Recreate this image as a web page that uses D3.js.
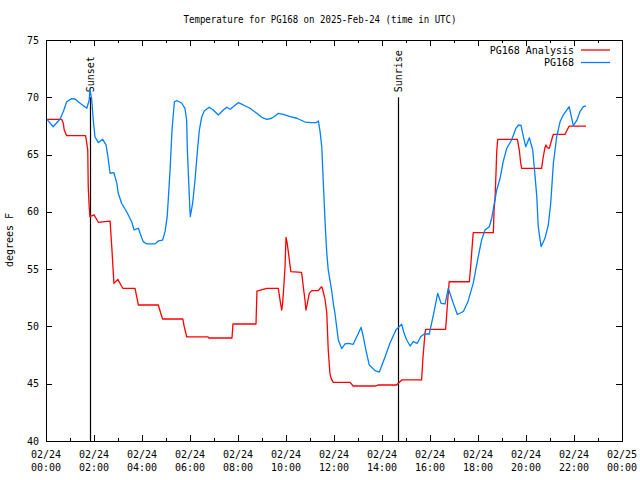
<!DOCTYPE html>
<html>
<head>
<meta charset="utf-8">
<script src="https://cdn.jsdelivr.net/npm/d3@7"></script>
<style>
  html, body { margin: 0; padding: 0; background: #fff; }
  svg { display: block; }
  text { font-family: "DejaVu Sans Mono", "Liberation Mono", monospace; fill: #000; }
</style>
</head>
<body>
<svg id="chart" width="640" height="480"></svg>
<script>
// ---------------- data ----------------
const title = "Temperature for PG168 on 2025-Feb-24 (time in UTC)";
const yLabel = "degrees F";
const seriesNames = ["PG168 Analysis", "PG168"];
const seriesColors = ["#ff0000", "#0080ff"];

// hours since 2025-02-24 00:00 UTC
const analysisHours = [0.03,0.65,0.72,0.76,0.86,1.65,1.70,1.74,1.76,1.80,1.83,2.00,2.18,2.67,2.74,2.83,2.99,3.20,3.71,3.85,4.68,4.78,4.86,5.70,5.76,5.86,6.75,6.79,7.75,7.79,8.75,8.79,9.05,9.20,9.68,9.75,9.82,9.86,9.89,9.96,10.00,10.05,10.14,10.20,10.65,10.72,10.79,10.83,10.89,10.97,11.07,11.35,11.42,11.49,11.55,11.63,11.70,11.76,11.83,11.88,11.97,12.67,12.80,13.71,13.85,14.61,14.82,15.65,15.70,15.79,15.82,16.65,16.70,16.76,16.80,17.64,17.70,17.74,17.80,18.64,18.67,18.71,18.75,18.78,18.82,19.64,19.72,19.78,19.82,20.65,20.72,20.79,20.83,20.89,20.97,21.03,21.10,21.14,21.63,21.70,21.80,22.50];
const analysisTemps = [68.08,68.08,67.73,67.14,66.65,66.65,65.98,65.40,62.20,60.45,59.58,59.73,59.09,59.20,56.96,53.76,54.11,53.33,53.33,51.87,51.87,51.15,50.65,50.65,49.98,49.10,49.08,48.99,48.99,50.21,50.21,53.09,53.24,53.33,53.33,52.31,51.43,52.02,52.89,55.21,57.78,57.26,55.80,54.78,54.72,53.47,52.31,51.43,52.02,52.89,53.12,53.12,53.33,53.47,53.03,52.31,51.15,47.94,45.91,45.47,45.12,45.12,44.80,44.80,44.89,44.89,45.33,45.33,47.07,49.40,49.75,49.75,51.15,52.89,53.90,53.90,55.36,56.52,58.18,58.18,60.16,61.18,63.37,65.25,66.33,66.33,65.40,64.24,63.80,63.80,64.81,65.60,65.84,65.60,65.55,65.98,66.51,66.77,66.77,67.08,67.49,67.49];

const obsHours = [0.03,0.30,0.58,0.72,0.86,1.07,1.21,1.42,1.70,1.80,1.83,1.90,1.97,2.04,2.18,2.36,2.50,2.57,2.67,2.83,2.95,3.01,3.15,3.36,3.57,3.67,3.85,3.92,4.05,4.20,4.54,4.68,4.86,4.96,5.05,5.17,5.25,5.35,5.46,5.65,5.79,5.86,5.89,5.96,6.01,6.11,6.21,6.30,6.39,6.49,6.60,6.80,6.97,7.18,7.39,7.53,7.67,8.01,8.22,8.50,8.78,8.99,9.20,9.40,9.54,9.68,9.89,10.17,10.45,10.79,11.07,11.25,11.35,11.42,11.49,11.55,11.63,11.70,11.76,11.83,11.90,11.97,12.04,12.11,12.18,12.32,12.46,12.60,12.80,12.95,13.13,13.22,13.33,13.47,13.71,13.89,14.13,14.33,14.58,14.82,14.92,15.03,15.17,15.30,15.47,15.61,15.76,15.97,16.17,16.32,16.46,16.63,16.76,16.97,17.14,17.39,17.58,17.80,18.01,18.15,18.29,18.47,18.57,18.68,18.78,18.92,19.05,19.20,19.40,19.58,19.68,19.79,19.89,19.99,20.14,20.28,20.38,20.45,20.51,20.63,20.79,20.93,21.03,21.14,21.28,21.42,21.55,21.80,21.97,22.11,22.25,22.39,22.50];
const obsTemps = [68.10,67.43,68.08,68.74,69.61,69.88,69.85,69.48,69.04,69.76,70.70,69.91,68.02,66.56,66.04,66.33,65.84,64.96,63.37,63.42,62.49,61.62,60.75,60.01,59.14,58.42,58.57,58.13,57.40,57.20,57.20,57.46,57.54,58.27,59.58,63.65,67.14,69.61,69.70,69.50,69.04,68.02,65.40,61.91,59.58,60.75,62.78,65.11,67.14,68.31,68.83,69.13,68.89,68.45,68.89,69.13,68.95,69.53,69.33,69.04,68.60,68.25,68.08,68.17,68.37,68.60,68.51,68.31,68.17,67.84,67.78,67.78,67.93,67.00,65.69,62.78,59.00,56.38,54.93,54.05,53.18,52.02,51.15,49.98,48.82,48.07,48.47,48.53,48.44,49.10,49.92,49.10,47.94,46.63,46.14,46.02,47.36,48.53,49.69,50.19,49.40,48.82,48.29,48.67,48.53,49.10,49.34,49.34,51.29,52.89,52.02,51.96,53.33,52.02,51.04,51.30,52.16,53.76,56.09,57.54,58.42,58.70,59.44,60.75,61.91,62.93,64.38,65.55,66.27,67.29,67.56,67.56,66.56,65.69,66.47,65.40,63.07,61.32,58.70,56.96,57.69,58.85,60.75,64.24,66.56,67.87,68.45,69.18,67.52,67.96,68.74,69.18,69.24];

const sunEvents = ["Sunset", "Sunrise"];
const sunHours = [1 + 50/60, 14 + 40/60];
const sunLineTop = 70;

const xTickHours = [0,2,4,6,8,10,12,14,16,18,20,22,24];
const xTickDates = ["02/24","02/24","02/24","02/24","02/24","02/24","02/24","02/24","02/24","02/24","02/24","02/24","02/25"];
const xTickTimes = ["00:00","02:00","04:00","06:00","08:00","10:00","12:00","14:00","16:00","18:00","20:00","22:00","00:00"];
const xMinorHours = d3.range(1, 24, 2);
const yTicks = [40,45,50,55,60,65,70,75];

// ---------------- layout ----------------
const L = 46, R = 622, T = 40, B = 441;
const svg = d3.select("#chart");
const x = d3.scaleLinear().domain([0, 24]).range([L, R]);
const y = d3.scaleLinear().domain([40, 75]).range([B, T]);

// title
svg.append("text").attr("x", 320).attr("y", 23).attr("text-anchor", "middle")
  .attr("font-size", 10).attr("textLength", 273).attr("lengthAdjust", "spacingAndGlyphs")
  .text(title);

// y label
svg.append("text").attr("transform", "translate(13,240) rotate(-90)")
  .attr("text-anchor", "middle").attr("font-size", 10).text(yLabel);

// ticks
const g = svg.append("g").attr("stroke", "#000").attr("stroke-width", 1).attr("shape-rendering", "crispEdges");
yTicks.forEach(v => {
  const yy = Math.round(y(v)) + 0.5;
  g.append("line").attr("x1", L).attr("x2", L + 6).attr("y1", yy).attr("y2", yy);
  g.append("line").attr("x1", R - 6).attr("x2", R).attr("y1", yy).attr("y2", yy);
});
xTickHours.forEach(h => {
  const xx = Math.round(x(h)) + 0.5;
  g.append("line").attr("x1", xx).attr("x2", xx).attr("y1", B).attr("y2", B - 6);
  g.append("line").attr("x1", xx).attr("x2", xx).attr("y1", T).attr("y2", T + 6);
});
xMinorHours.forEach(h => {
  const xx = Math.round(x(h)) + 0.5;
  g.append("line").attr("x1", xx).attr("x2", xx).attr("y1", B).attr("y2", B - 3);
  g.append("line").attr("x1", xx).attr("x2", xx).attr("y1", T).attr("y2", T + 3);
});

// tick labels
yTicks.forEach(v => {
  svg.append("text").attr("x", 39).attr("y", y(v) + 3.5).attr("text-anchor", "end")
    .attr("font-size", 10).text(v);
});
xTickHours.forEach((h, i) => {
  svg.append("text").attr("x", x(h)).attr("y", 458).attr("text-anchor", "middle")
    .attr("font-size", 10).text(xTickDates[i]);
  svg.append("text").attr("x", x(h)).attr("y", 471).attr("text-anchor", "middle")
    .attr("font-size", 10).text(xTickTimes[i]);
});

// sun lines
sunEvents.forEach((name, i) => {
  const xx = Math.round(x(sunHours[i])) + 0.5;
  svg.append("line").attr("x1", xx).attr("x2", xx).attr("y1", y(40)).attr("y2", y(sunLineTop))
    .attr("stroke", "#000").attr("stroke-width", 1.2);
  svg.append("text").attr("transform", `translate(${xx},${y(sunLineTop) - 5}) rotate(-90)`)
    .attr("dy", "0.35em").attr("font-size", 10).text(name);
});

// series
const line = d3.line().x(d => x(d[0])).y(d => y(d[1]));
const analysis = analysisHours.map((h, i) => [h, analysisTemps[i]]);
const obs = obsHours.map((h, i) => [h, obsTemps[i]]);
svg.append("path").datum(analysis).attr("d", line).attr("fill", "none")
  .attr("stroke", seriesColors[0]).attr("stroke-width", 1.3).attr("stroke-linejoin", "round");
svg.append("path").datum(obs).attr("d", line).attr("fill", "none")
  .attr("stroke", seriesColors[1]).attr("stroke-width", 1.3).attr("stroke-linejoin", "round");

// legend
seriesNames.forEach((n, i) => {
  const yy = 50 + i * 12.5;
  svg.append("text").attr("x", 574).attr("y", yy + 3.5).attr("text-anchor", "end")
    .attr("font-size", 10).text(n);
  svg.append("line").attr("x1", 581).attr("x2", 610).attr("y1", yy).attr("y2", yy)
    .attr("stroke", seriesColors[i]).attr("stroke-width", 1.3);
});

// border
svg.append("rect").attr("x", L + 0.5).attr("y", T + 0.5).attr("width", R - L).attr("height", B - T)
  .attr("fill", "none").attr("stroke", "#000").attr("stroke-width", 1).attr("shape-rendering", "crispEdges");
</script>
</body>
</html>
